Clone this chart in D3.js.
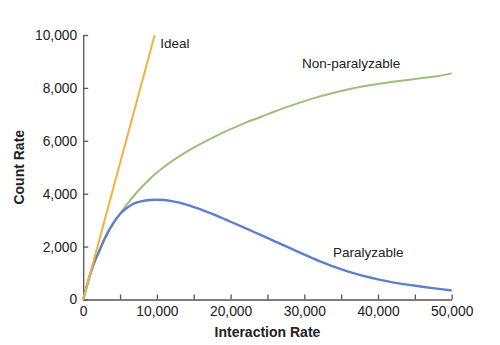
<!DOCTYPE html>
<html>
<head>
<meta charset="utf-8">
<script src="https://cdn.jsdelivr.net/npm/d3@7"></script>
<style>
  body { margin: 0; background: #fff; }
  svg { display: block; font-family: "Liberation Sans", Arial, sans-serif; }
  .axis path, .axis line { stroke: #555; stroke-width: 1.3; }
  .axis text { fill: #222; font-size: 13.8px; }
</style>
</head>
<body>
<div id="chart"></div>
<script>
// interaction rate (x) against count rate (y)
const idealX = [0, 9700];
const idealY = [0, 10000];

const rateX = [0, 500, 1000, 1500, 2000, 3000, 4000, 5000, 6000, 7000, 8000, 9000, 10000, 11000, 12000,
  14000, 16000, 18000, 20000, 22000, 24000, 26000, 28000, 30000, 32000, 34000, 36000,
  38000, 40000, 42000, 44000, 46000, 48000, 50000];

const nonParalyzable = [0, 520, 1000, 1400, 1720, 2350, 2850, 3250, 3620, 3960, 4270, 4550, 4800, 5020, 5220,
  5580, 5890, 6180, 6440, 6680, 6890, 7110, 7310, 7500, 7670, 7820, 7950,
  8060, 8150, 8230, 8300, 8370, 8440, 8550];

const paralyzable = [0, 520, 1000, 1400, 1720, 2350, 2850, 3230, 3480, 3640, 3720, 3760, 3770, 3760, 3720,
  3590, 3400, 3180, 2940, 2700, 2450, 2200, 1950, 1700, 1460, 1240, 1050,
  890, 760, 650, 560, 480, 410, 340];

const xTicks = [0, 10000, 20000, 30000, 40000, 50000];
const xMinorTicks = [5000, 15000, 25000, 35000, 45000];
const yTicks = [0, 2000, 4000, 6000, 8000, 10000];

const width = 500;
const height = 345;
const margin = { top: 35, right: 48.3, bottom: 45.5, left: 83.2 };

const svg = d3
  .select("#chart")
  .append("svg")
  .attr("width", width)
  .attr("height", height);

const x = d3.scaleLinear([0, 50000], [margin.left, width - margin.right]);
const y = d3.scaleLinear([0, 10000], [height - margin.bottom, margin.top]);
const fmt = d3.format(",");

// axes, ticks pointing inward
svg
  .append("g")
  .attr("class", "axis")
  .attr("transform", `translate(0,${height - margin.bottom})`)
  .call(d3.axisBottom(x).tickValues(xTicks).tickFormat(fmt).tickSizeInner(-5).tickSizeOuter(0).tickPadding(7));

svg
  .append("g")
  .attr("class", "axis")
  .attr("transform", `translate(0,${height - margin.bottom})`)
  .call(d3.axisBottom(x).tickValues(xMinorTicks).tickFormat("").tickSizeInner(-5).tickSizeOuter(0))
  .select(".domain")
  .remove();

svg
  .append("g")
  .attr("class", "axis")
  .attr("transform", `translate(${margin.left},0)`)
  .call(d3.axisLeft(y).tickValues(yTicks).tickFormat(fmt).tickSizeInner(-5).tickSizeOuter(0).tickPadding(6));

// axis titles
svg
  .append("text")
  .attr("x", (margin.left + width - margin.right) / 2)
  .attr("y", 337)
  .attr("text-anchor", "middle")
  .attr("font-weight", "bold")
  .attr("font-size", "14px")
  .attr("fill", "#222")
  .text("Interaction Rate");

svg
  .append("text")
  .attr("transform", `translate(23.5,${(margin.top + height - margin.bottom) / 2}) rotate(-90)`)
  .attr("text-anchor", "middle")
  .attr("font-weight", "bold")
  .attr("font-size", "14px")
  .attr("fill", "#222")
  .text("Count Rate");

// curves
const line = d3
  .line()
  .x((d) => x(d[0]))
  .y((d) => y(d[1]))
  .curve(d3.curveCatmullRom.alpha(0.5));

const series = [
  { name: "Non-paralyzable", xs: rateX, ys: nonParalyzable, color: "#9dbf7c", w: 2 },
  { name: "Paralyzable", xs: rateX, ys: paralyzable, color: "#5b80cc", w: 2.4 },
  { name: "Ideal", xs: idealX, ys: idealY, color: "#f3b23a", w: 2 },
];

svg
  .selectAll(".curve")
  .data(series)
  .enter()
  .append("path")
  .attr("class", "curve")
  .attr("d", (s) => line(s.xs.map((v, i) => [v, s.ys[i]])))
  .attr("fill", "none")
  .attr("stroke", (s) => s.color)
  .attr("stroke-width", (s) => s.w);

// curve labels
const labels = [
  { text: "Ideal", lx: 10450, ly: 9500 },
  { text: "Non-paralyzable", lx: 29700, ly: 8770 },
  { text: "Paralyzable", lx: 33900, ly: 1600 },
];

svg
  .selectAll(".label")
  .data(labels)
  .enter()
  .append("text")
  .attr("class", "label")
  .attr("x", (d) => x(d.lx))
  .attr("y", (d) => y(d.ly))
  .attr("font-size", "13.5px")
  .attr("fill", "#222")
  .text((d) => d.text);
</script>
</body>
</html>
